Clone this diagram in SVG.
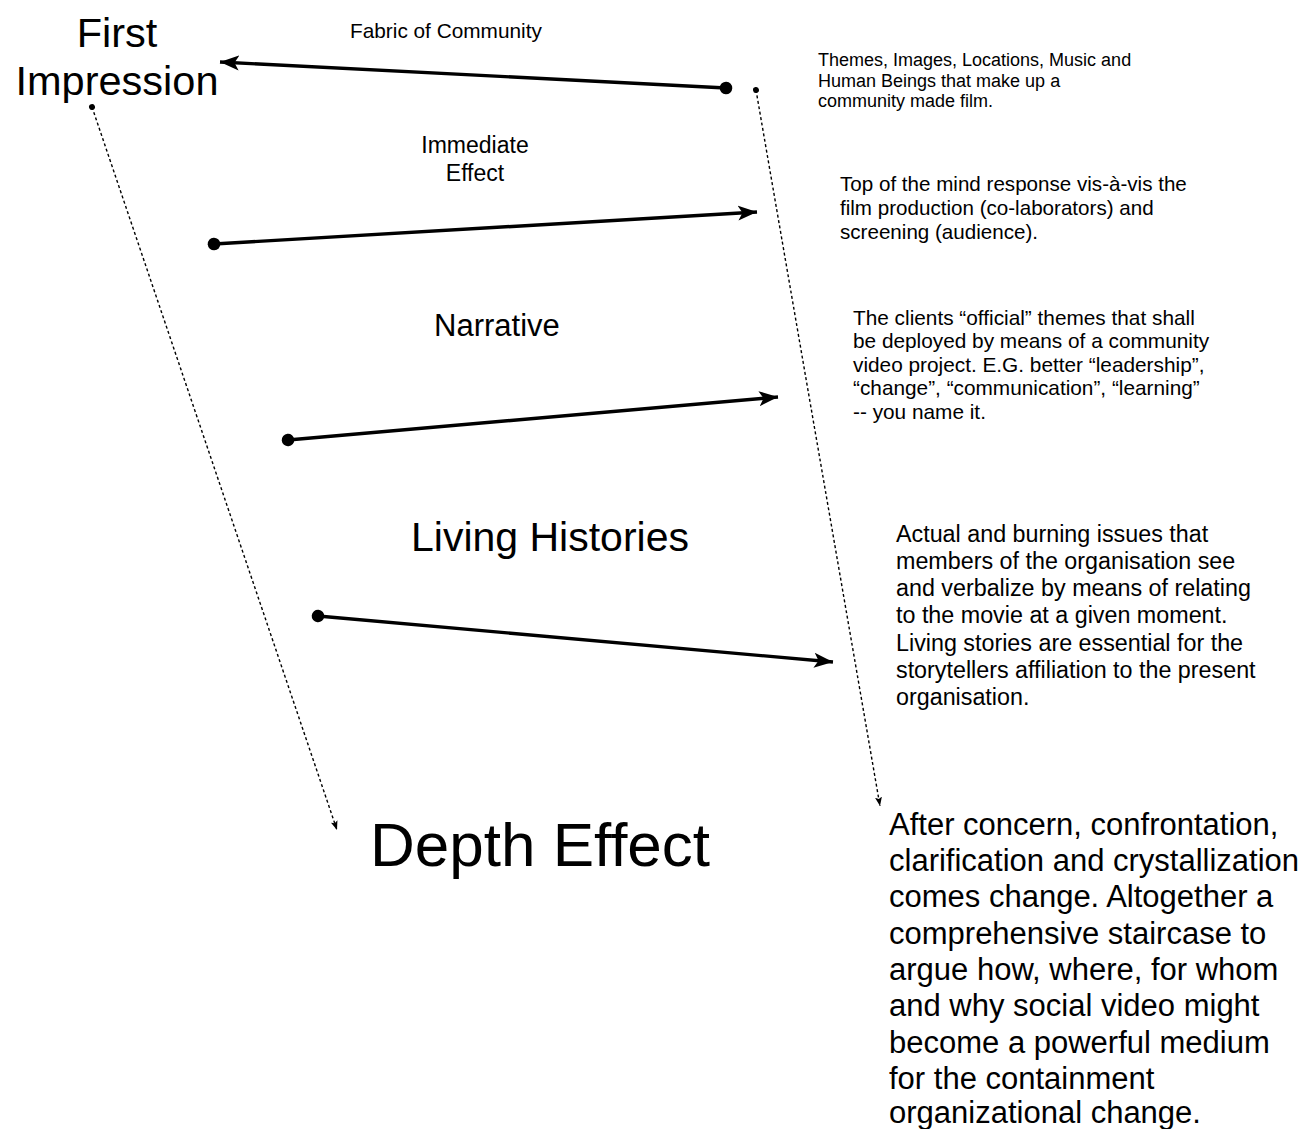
<svg xmlns="http://www.w3.org/2000/svg" width="1305" height="1129" viewBox="0 0 1305 1129">
<style>
text{font-family:"Liberation Sans",Arial,Helvetica,sans-serif;fill:#000}
.solid{stroke:#000;stroke-width:3.4;fill:none}
.dot{stroke:#000;stroke-width:1.4;fill:none;stroke-dasharray:3 2.5}
</style>
<defs>
<marker id="ah" markerUnits="userSpaceOnUse" markerWidth="22" markerHeight="18" refX="19" refY="9" orient="auto">
<path d="M0,1.5 L19,9 L0,16.5 L4.5,9 z" fill="#000"/>
</marker>
<marker id="bd" markerUnits="userSpaceOnUse" markerWidth="14" markerHeight="14" refX="7" refY="7" orient="auto">
<circle cx="7" cy="7" r="6.3" fill="#000"/>
</marker>
<marker id="sah" markerUnits="userSpaceOnUse" markerWidth="10" markerHeight="8" refX="9" refY="4" orient="auto">
<path d="M0,0.5 L9,4 L0,7.5 L2,4 z" fill="#000"/>
</marker>
<marker id="sd" markerUnits="userSpaceOnUse" markerWidth="8" markerHeight="8" refX="4" refY="4" orient="auto">
<circle cx="4" cy="4" r="3" fill="#000"/>
</marker>
</defs>
<g id="connectors">
<line class="solid" x1="726" y1="88" x2="220" y2="62" marker-start="url(#bd)" marker-end="url(#ah)"/>
<line class="solid" x1="214" y1="244" x2="757" y2="212" marker-start="url(#bd)" marker-end="url(#ah)"/>
<line class="solid" x1="288" y1="440" x2="778" y2="397" marker-start="url(#bd)" marker-end="url(#ah)"/>
<line class="solid" x1="318" y1="616" x2="833" y2="662" marker-start="url(#bd)" marker-end="url(#ah)"/>
<line class="dot" x1="92" y1="107" x2="337" y2="830" marker-start="url(#sd)" marker-end="url(#sah)"/>
<line class="dot" x1="756" y1="90" x2="880" y2="806" marker-start="url(#sd)" marker-end="url(#sah)"/>
</g>
<g id="first-impression">
<text x="117" y="47" font-size="41.5" text-anchor="middle">First</text>
<text x="117" y="95" font-size="41.5" text-anchor="middle">Impression</text>
</g>
<g id="fabric-of-community">
<text x="350" y="38" font-size="20.8">Fabric of Community</text>
</g>
<g id="fabric-desc" font-size="18">
<text x="818" y="66">Themes, Images, Locations, Music and</text>
<text x="818" y="87">Human Beings that make up a</text>
<text x="818" y="107">community made film.</text>
</g>
<g id="immediate-effect" font-size="23">
<text x="475" y="153" text-anchor="middle">Immediate</text>
<text x="475" y="181" text-anchor="middle">Effect</text>
</g>
<g id="immediate-desc" font-size="20.6">
<text x="840" y="191">Top of the mind response vis-à-vis the</text>
<text x="840" y="215">film production (co-laborators) and</text>
<text x="840" y="239">screening (audience).</text>
</g>
<g id="narrative">
<text x="434" y="336" font-size="31">Narrative</text>
</g>
<g id="narrative-desc" font-size="20.8">
<text x="853" y="325">The clients “official” themes that shall</text>
<text x="853" y="348">be deployed by means of a community</text>
<text x="853" y="372">video project. E.G. better “leadership”,</text>
<text x="853" y="395">“change”, “communication”, “learning”</text>
<text x="853" y="419">-- you name it.</text>
</g>
<g id="living-histories">
<text x="411" y="551" font-size="41">Living Histories</text>
</g>
<g id="living-desc" font-size="23.3">
<text x="896" y="542">Actual and burning issues that</text>
<text x="896" y="569">members of the organisation see</text>
<text x="896" y="596">and verbalize by means of relating</text>
<text x="896" y="623">to the movie at a given moment.</text>
<text x="896" y="651">Living stories are essential for the</text>
<text x="896" y="678">storytellers affiliation to the present</text>
<text x="896" y="705">organisation.</text>
</g>
<g id="depth-effect">
<text x="370" y="866" font-size="62">Depth Effect</text>
</g>
<g id="depth-desc" font-size="31">
<text x="889" y="835">After concern, confrontation,</text>
<text x="889" y="871">clarification and crystallization</text>
<text x="889" y="907">comes change. Altogether a</text>
<text x="889" y="944">comprehensive staircase to</text>
<text x="889" y="980">argue how, where, for whom</text>
<text x="889" y="1016">and why social video might</text>
<text x="889" y="1053">become a powerful medium</text>
<text x="889" y="1089">for the containment</text>
<text x="889" y="1123">organizational change.</text>
</g>
</svg>
